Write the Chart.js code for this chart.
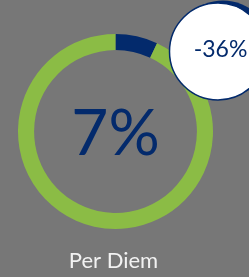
<!DOCTYPE html>
<html>
<head>
<meta charset="utf-8">
<script src="https://cdn.jsdelivr.net/npm/chart.js@4"></script>
<style>
html,body{margin:0;padding:0;background:#777777;}
#wrap{position:relative;width:249px;height:277px;}
</style>
</head>
<body>
<div id="wrap"><canvas id="c" width="249" height="277"></canvas></div>
<script>
const categories = ["Per Diem", "Rest"];
const values = [7, 93];
const centerLabel = "7%";
const changeLabel = "-36%";
const title = "Per Diem";

const NAVY = "#032a6c";
const GREEN = "#8bbc45";

const overlay = {
  id: "overlay",
  afterDraw(chart) {
    const ctx = chart.ctx;
    const meta = chart.getDatasetMeta(0);
    const arc = meta.data[0];
    const cx = arc.x, cy = arc.y;
    ctx.save();
    ctx.fillStyle = NAVY;
    ctx.textAlign = "center";
    ctx.textBaseline = "alphabetic";
    ctx.font = "64px Lato";
    ctx.fillText(centerLabel, cx, cy + 23.5);
    ctx.fillStyle = "#f2f2f2";
    ctx.font = "22px Lato";
    ctx.fillText(title, cx - 2, 268);
    ctx.fillStyle = NAVY;
    ctx.beginPath();
    ctx.arc(223, 49, 48.5, 0, Math.PI * 2);
    ctx.fill();
    ctx.fillStyle = "#ffffff";
    ctx.strokeStyle = NAVY;
    ctx.lineWidth = 1.5;
    ctx.beginPath();
    ctx.arc(218, 51.5, 48.5, 0, Math.PI * 2);
    ctx.fill();
    ctx.stroke();
    ctx.fillStyle = NAVY;
    ctx.font = "23px Lato";
    ctx.fillText(changeLabel, 220.5, 57);
    ctx.restore();
  }
};

new Chart(document.getElementById("c"), {
  type: "doughnut",
  data: {
    labels: categories,
    datasets: [{
      data: values,
      backgroundColor: [NAVY, GREEN],
      borderWidth: 0,
      hoverOffset: 0
    }]
  },
  options: {
    responsive: false,
    animation: false,
    cutout: "83.5%",
    layout: { padding: { left: 18, right: 36, top: 34, bottom: 48 } },
    plugins: { legend: { display: false }, tooltip: { enabled: false } },
    events: []
  },
  plugins: [overlay]
});
</script>
</body>
</html>
